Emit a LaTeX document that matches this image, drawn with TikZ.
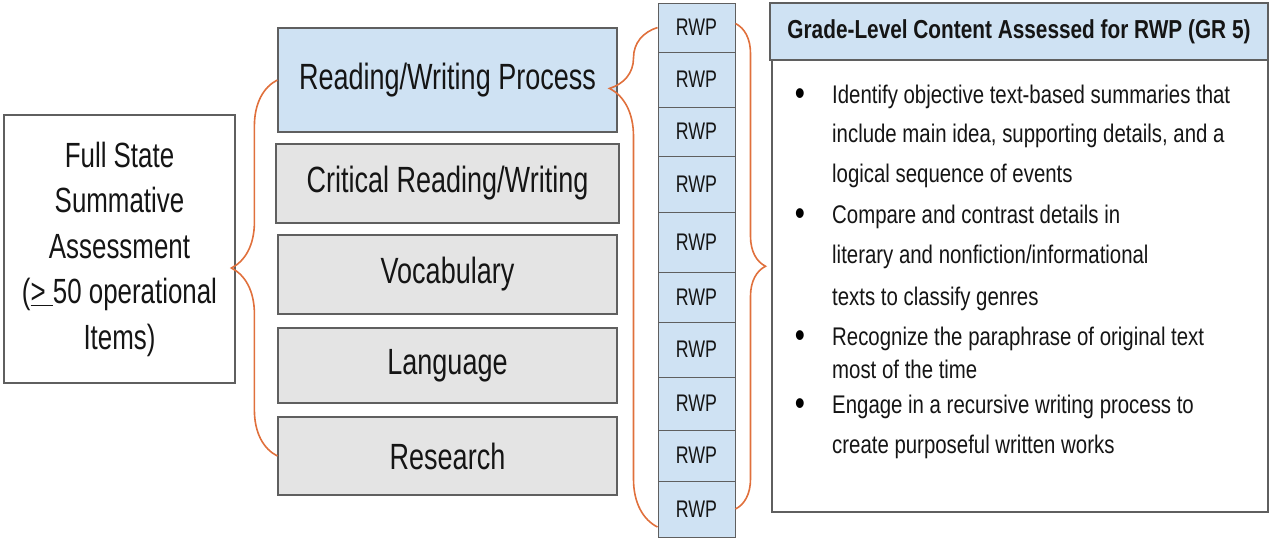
\documentclass[tikz,border=0pt]{standalone}
\usepackage{fontspec}
\setmainfont{Liberation Sans}[FakeStretch=0.8]
\newfontfamily\tallfont{Liberation Sans}[FakeStretch=0.74]
\usetikzlibrary{decorations.pathreplacing}
\definecolor{boxblue}{HTML}{CFE2F3}
\definecolor{boxgray}{HTML}{E4E4E4}
\definecolor{edgegray}{HTML}{5F5F5F}
\definecolor{braceorange}{HTML}{E0703C}
\definecolor{inkgray}{HTML}{151515}
\tikzset{
	area box/.style={draw=edgegray,line width=1.2pt,fill=boxgray,minimum width=339pt,inner sep=0pt,text=inkgray,font=\tallfont\fontsize{36.5}{40}\selectfont},
	cell box/.style={draw=edgegray,line width=1pt,fill=boxblue,minimum width=77pt,inner sep=0pt,text=inkgray,font=\tallfont\fontsize{24}{26}\selectfont},
	list text/.style={anchor=base west,inner sep=0pt,text=inkgray,font=\fontsize{25.5}{30}\selectfont},
	brace line/.style={draw=braceorange,line width=1.6pt,decorate}
}

\begin{document}
\begin{tikzpicture}[x=1pt,y=-1pt]
\useasboundingbox (0,0) rectangle (1269,539);
% left box
\node [draw=edgegray,line width=1.2pt,fill=white,minimum width=231pt,minimum height=268pt,
       align=center,text=inkgray,font=\tallfont\fontsize{35}{45.5}\selectfont] (full) at (119.5,249)
      {Full State\\Summative\\Assessment\\(\underline{>\ }50 operational\\Items)};
% reporting categories
\node [area box,fill=boxblue,minimum height=104pt] (rwp) at (447.5,80) {Reading/Writing Process};
\node [area box,minimum width=343pt,minimum height=79pt] (crit) at (447.5,183.5) {Critical Reading/Writing};
\node [area box,minimum height=79pt] (voc) at (447.5,274.5) {Vocabulary};
\node [area box,minimum height=75pt] (lang) at (447.5,365.5) {Language};
\node [area box,minimum height=78pt] (res) at (447.5,456) {Research};
% item column
\foreach \ytop/\ybot [count=\i] in {3/52,52/107,107/156,156/212,212/272,272/322,322/377,377/430,430/481,481/537}
	\node [cell box,minimum height={(\ybot-\ytop)*1pt}] (rwp\i) at (696.5,{(\ytop+\ybot)/2}) {RWP};
% content box
\node [draw=edgegray,line width=1.2pt,fill=boxblue,minimum width=498pt,minimum height=57pt,inner sep=0pt,
       text=inkgray,font=\bfseries\fontsize{26}{30}\selectfont] (head) at (1019,31.5)
      {Grade-Level Content Assessed for RWP (GR 5)};
\node [draw=edgegray,line width=1.2pt,fill=white,minimum width=496pt,minimum height=452pt,inner sep=0pt] (body) at (1020,286) {};
\foreach \yy [count=\i] in {103,223,345,413}
	\node [anchor=base,inner sep=0pt,text=black,font=\fontsize{36}{30}\selectfont] (dot\i) at (800,{\yy+2}) {•};
\foreach \yy/\txt [count=\i] in {103/{Identify objective text-based summaries that},
	142/{include main idea, supporting details, and a},
	182/{logical sequence of events},
	223/{Compare and contrast details in},
	263/{literary and nonfiction/informational},
	305/{texts to classify genres},
	345/{Recognize the paraphrase of original text},
	378/{most of the time},
	413/{Engage in a recursive writing process to},
	453/{create purposeful written works}}
	\node [list text] (line\i) at (832,\yy) {\txt};
% braces
\draw [brace line,decoration={brace,amplitude=46pt}] (res.west) -- (rwp.west);
\draw [brace line,decoration={brace,amplitude=48pt,aspect=0.878}] ([yshift=-18pt]rwp10.west) -- (rwp1.west);
\draw [brace line,decoration={brace,amplitude=30pt}] ([yshift=4pt]rwp1.east) -- (rwp10.east);
\end{tikzpicture}
\end{document}
